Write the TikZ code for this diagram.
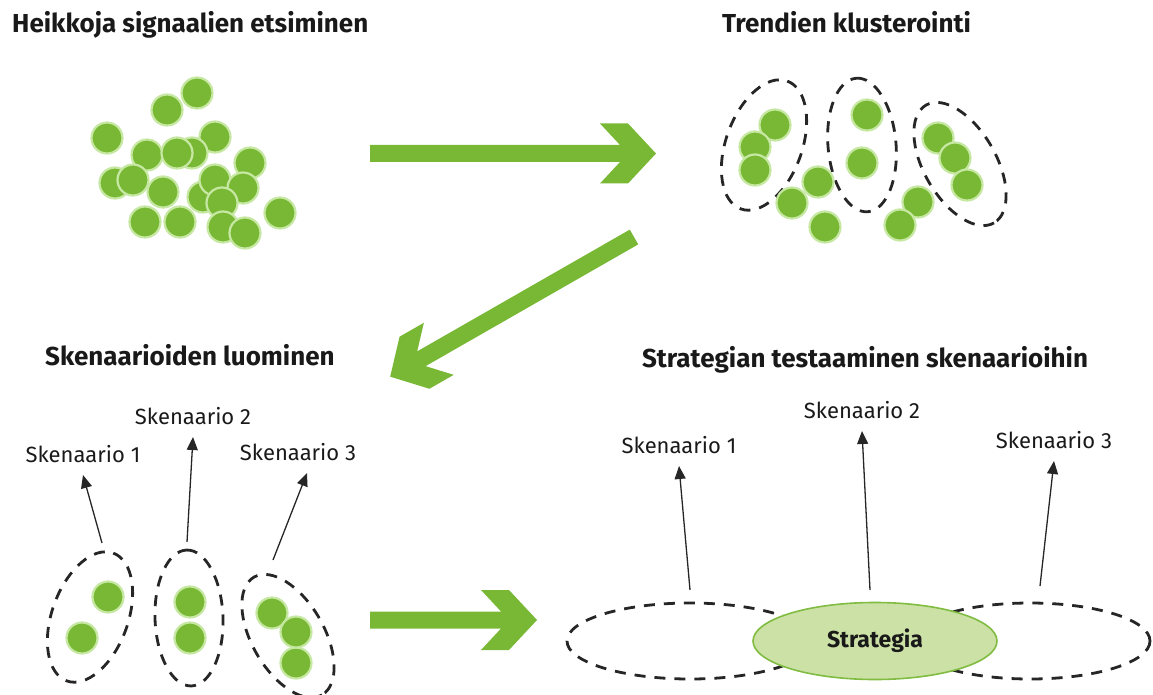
\documentclass[tikz,border=0pt]{standalone}
\usepackage{fontspec}
\setmainfont{Fira Sans}
\usetikzlibrary{arrows.meta,positioning,shapes.geometric}

\definecolor{leafgreen}{RGB}{120,184,52}
\definecolor{glowgreen}{RGB}{198,232,162}
\definecolor{palegreen}{RGB}{204,225,166}
\definecolor{rimgreen}{RGB}{128,188,66}

\tikzset{
  seed/.style={fill=leafgreen, draw=glowgreen, line width=2.2},
  clusterring/.style={draw=black!85, line width=2.8, dash pattern={on 11pt off 9pt}},
  heading/.style={inner sep=0pt, text=black!90, font=\bfseries\fontsize{26}{30}\selectfont},
  scenlabel/.style={inner sep=0pt, text=black!90, font=\fontsize{22}{26}\selectfont},
  thinarrow/.style={draw=black!85, line width=1.3, -{Triangle[length=13pt,width=11pt]}},
  pics/fatarrow/.style={code={
    \fill[leafgreen] (0,-8.5) -- (#1-36,-8.5) -- (#1-56,-30) -- (#1-28,-30) -- (#1,0)
      -- (#1-28,30) -- (#1-56,30) -- (#1-36,8.5) -- (0,8.5) -- cycle;
  }}
}

\begin{document}
\begin{tikzpicture}[x=1pt,y=1pt,yscale=-1]
\useasboundingbox (0,0) rectangle (1153,695);

% Text Node
\node[heading, anchor=base west] (weak) at (12,33) {Heikkoja signaalien etsiminen};
\node[heading, anchor=base west] (trend) at (722,33) {Trendien klusterointi};
\node[heading, anchor=base west] (scen) at (45,365) {Skenaarioiden luominen};
\node[heading, anchor=base] (test) at (865,367) {Strategian testaaminen skenaarioihin};

%Shape: Circle (loose signals)
\foreach \cx/\cy in {197/93, 167/110, 107/138, 215/137, 147/155, 192/153, 177/153, 250/163,
  115/183, 133/180, 163/192, 203/197, 215/180, 243/188, 222/203, 145/222, 180/222,
  223/227, 245/233, 280/213}
  \draw[seed] (\cx,\cy) circle [radius=15.5];

%Shape: Ellipse (clusters)
\draw[clusterring] (764,145) ellipse [x radius=68, y radius=38, rotate=-70];
\draw[clusterring] (862,145) ellipse [x radius=67, y radius=34, rotate=-95];
\draw[clusterring] (960,164) ellipse [x radius=68, y radius=36, rotate=60];

\foreach \cx/\cy in {775/125, 755/147, 755/170, 818/182, 792/203, 825/227, 867/115,
  862/163, 938/138, 955/158, 967/185, 918/202, 900/225}
  \draw[seed] (\cx,\cy) circle [radius=15.5];

%Big arrows
\pic at (370,153.5) {fatarrow=286};
\pic[rotate=-150.2] at (634,237) {fatarrow=281};
\pic at (370,620) {fatarrow=167};

%Shape: Ellipse (scenarios)
\draw[clusterring] (90,617) ellipse [x radius=68, y radius=38, rotate=-70];
\draw[clusterring] (189,618) ellipse [x radius=68, y radius=34, rotate=-92];
\draw[clusterring] (288,636) ellipse [x radius=68, y radius=36, rotate=60];

\foreach \cx/\cy in {108/597, 82/638, 190/602, 190/638, 272/613, 296/663, 296/632}
  \draw[seed] (\cx,\cy) circle [radius=15.5];

%Straight Lines (scenarios)
\coordinate (t1) at (102,543);
\coordinate (h1) at (83,475);
\coordinate (t2) at (187,542);
\coordinate (h2) at (193,437);
\coordinate (t3) at (273,560);
\coordinate (h3) at (307,473);
\node[scenlabel, above=12pt of h1] (sl1) {Skenaario 1};
\node[scenlabel, above=12pt of h2] (sl2) {Skenaario 2};
\node[scenlabel, above=12pt of h3, xshift=-9pt] (sl3) {Skenaario 3};
\draw[thinarrow] (t1) -- (h1);
\draw[thinarrow] (t2) -- (h2);
\draw[thinarrow] (t3) -- (h3);

%Shape: Ellipse (strategy)
\draw[clusterring] (690,641) ellipse [x radius=123, y radius=38];
\draw[clusterring] (1030,641) ellipse [x radius=120, y radius=38];
\node[ellipse, draw=rimgreen, fill=palegreen, line width=1.6, minimum width=244,
  minimum height=77, inner sep=0pt, text=black!90, font=\bfseries\fontsize{23}{27}\selectfont]
  (strat) at (875,641) {Strategia};

%Straight Lines (strategy)
\coordinate (u1) at (690,590);
\coordinate (k1) at (679,466);
\coordinate (u2) at (870,590);
\coordinate (k2) at (862,431);
\coordinate (u3) at (1040,586);
\coordinate (k3) at (1054,461);
\node[scenlabel, above=12pt of k1] (ss1) {Skenaario 1};
\node[scenlabel, above=12pt of k2] (ss2) {Skenaario 2};
\node[scenlabel, above=12pt of k3] (ss3) {Skenaario 3};
\draw[thinarrow] (u1) -- (k1);
\draw[thinarrow] (u2) -- (k2);
\draw[thinarrow] (u3) -- (k3);

\end{tikzpicture}
\end{document}
